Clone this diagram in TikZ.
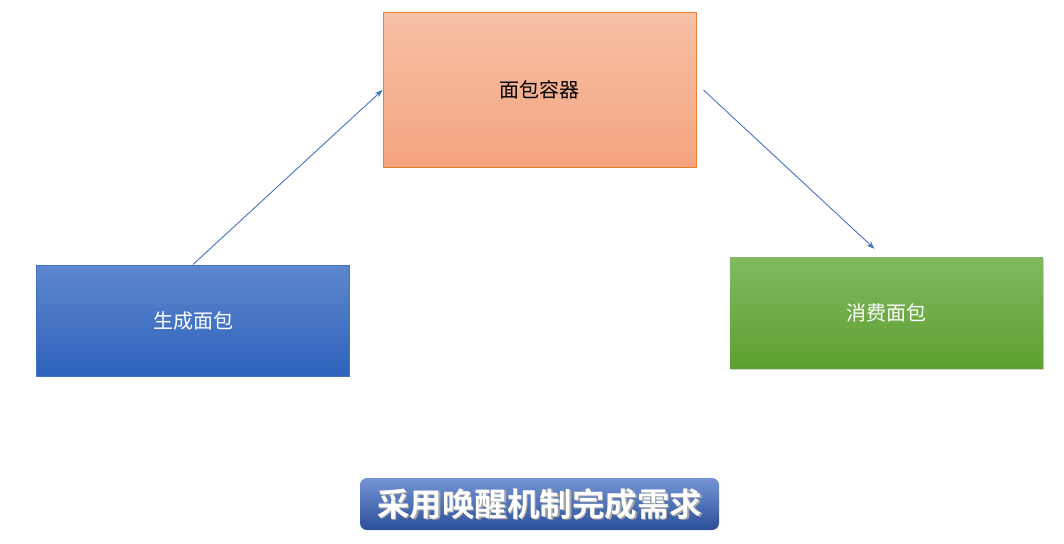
\documentclass[tikz,border=0pt]{standalone}
\usepackage{fontspec}
\newfontfamily\cjk{Noto Sans CJK SC}
\newfontfamily\cjkbold{Noto Sans CJK SC Bold}
\usetikzlibrary{shadows,arrows.meta}
\definecolor{orgborder}{HTML}{ED7D31}
\definecolor{orgtop}{HTML}{F7C0A6}
\definecolor{orgbot}{HTML}{F4A47E}
\definecolor{bluetop}{HTML}{5D87CD}
\definecolor{bluebot}{HTML}{2E62BC}
\definecolor{blueborder}{HTML}{4472C4}
\definecolor{greentop}{HTML}{80B960}
\definecolor{greenbot}{HTML}{5EA030}
\definecolor{btntop}{HTML}{7595D5}
\definecolor{btnbot}{HTML}{2A4E98}
\definecolor{arrowc}{HTML}{4472C4}
\tikzset{
  box/.style={rectangle, minimum width=313pt, inner sep=0pt, font=\cjk\fontsize{20}{24}\selectfont},
  conn/.style={draw=arrowc, line width=0.9pt, -{Stealth[length=8pt,width=6pt]}},
  btnfont/.style={font=\cjkbold\fontsize{32.5}{36}\selectfont},
}
\begin{document}
\begin{tikzpicture}[x=1pt,y=-1pt]
\useasboundingbox (0,0) rectangle (1064,543);
\node[box, minimum height=154pt, draw=orgborder, line width=1pt, top color=orgtop, bottom color=orgbot, text=black] (cont) at (539.5,90) {面包容器};
\node[box, minimum height=111pt, draw=blueborder, line width=1pt, top color=bluetop, bottom color=bluebot, text=white] (prod) at (193,320.5) {生成面包};
\node[box, minimum height=111pt, top color=greentop, bottom color=greenbot, text=white, drop shadow={opacity=0.35, shadow xshift=1pt, shadow yshift=-2pt}] (cons) at (886.5,312.5) {消费面包};
\draw[conn] (prod.north) -- (cont.west);
\draw[conn] ([xshift=7pt]cont.east) -- ([xshift=-12pt,yshift=8pt]cons.north);
\node[rectangle, rounded corners=7pt, minimum width=359pt, minimum height=52pt, top color=btntop, bottom color=btnbot, draw=none] (btn) at (539.5,504) {};
\node[text=gray!70, btnfont] (btnshadow) at ([xshift=1.5pt,yshift=-1.5pt]btn.center) {采用唤醒机制完成需求};
\node[text=white, btnfont] (btntext) at (btn.center) {采用唤醒机制完成需求};
\end{tikzpicture}
\end{document}
